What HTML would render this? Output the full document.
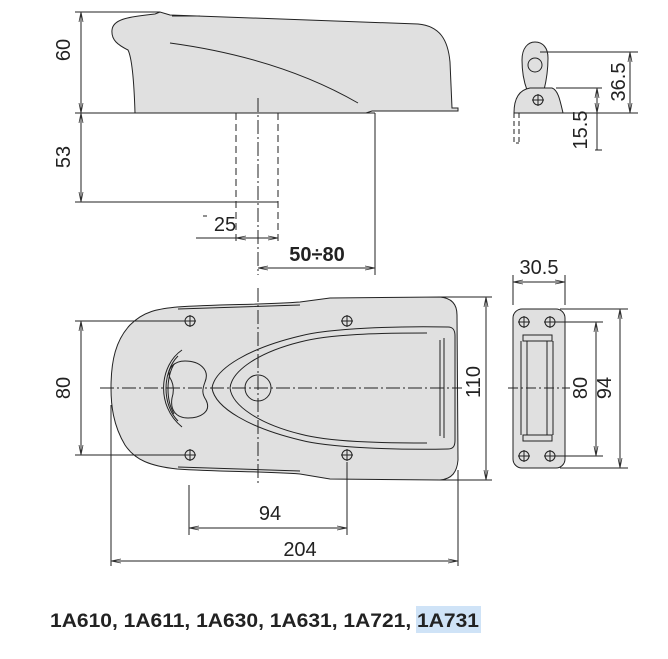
<!DOCTYPE html>
<html><head><style>
html,body{margin:0;padding:0;background:#fff;width:668px;height:659px;overflow:hidden}
svg{display:block}
text{font-family:"Liberation Sans",Arial,sans-serif;fill:#222}
</style></head><body>
<svg width="668" height="659" viewBox="0 0 668 659" xmlns="http://www.w3.org/2000/svg">
<defs>
<marker id="a" markerWidth="10" markerHeight="6" refX="10" refY="3" orient="auto-start-reverse" markerUnits="userSpaceOnUse"><path d="M0,1 L10,3 L0,5" fill="none" stroke="#333" stroke-width="0.8"/></marker>
</defs>
<g stroke="#222" stroke-width="1" fill="none">
<!-- TOP VIEW -->
<path d="M135,113 C134,80 132,58 128,50 C118,45 111,40 112,30 C113,20 125,17 155,14 L160,12 L170,15 L418,24 C440,26 448,40 450,62 L452,108 L458,108 L458,111 L372,111 L366,113 Z" fill="#e0e0e0"/>
<path d="M170,43 Q280,58 358,103"/>
<path d="M172,16 L200,16"/>
<line x1="75" y1="12" x2="160" y2="12"/>
<line x1="75" y1="113" x2="375" y2="113"/>
<line x1="75" y1="202" x2="278" y2="202"/>
<line x1="81" y1="12" x2="81" y2="113" marker-start="url(#a)" marker-end="url(#a)"/>
<line x1="81" y1="113" x2="81" y2="202" marker-start="url(#a)" marker-end="url(#a)"/>
<line x1="258" y1="98" x2="258" y2="275" stroke-dasharray="14,3,2,3"/>
<line x1="236" y1="113" x2="236" y2="245" stroke-dasharray="7,4"/>
<line x1="278" y1="113" x2="278" y2="245" stroke-dasharray="7,4"/>
<line x1="196" y1="238" x2="278" y2="238"/>
<line x1="236" y1="238" x2="258" y2="238" marker-start="url(#a)"/>
<line x1="258" y1="238" x2="278" y2="238" marker-end="url(#a)"/>
<line x1="203" y1="216" x2="207" y2="216"/>
<line x1="375" y1="113" x2="375" y2="275"/>
<line x1="258" y1="268" x2="375" y2="268" marker-start="url(#a)" marker-end="url(#a)"/>
<!-- BOTTOM VIEW -->
<path d="M177,307 C220,304 260,305 300,302 L330,298 L440,297 C452,298 457,305 457,315 L458,460 C457,472 452,479 440,480 L330,479 L300,474 C260,471 220,472 177,469 C150,466 135,460 125,445 C113,425 111,405 111,388 C111,360 116,340 130,325 C145,310 160,309 177,307 Z" fill="#e0e0e0"/>
<path d="M178,309 L300,305 M178,467 L300,471"/>
<path d="M448,327 C400,326 330,328 300,336 C250,348 215,368 212,388 C215,408 250,428 300,440 C330,448 400,450 448,449 C454,449 455,445 455,440 L455,336 C455,330 453,327 448,327 Z"/>
<path d="M427,333 C380,333 330,334 300,342 C260,352 232,370 230,388 C232,406 260,424 300,434 C330,442 380,443 427,443"/>
<path d="M440,340 L440,436 M444,338 L444,438"/>
<circle cx="258" cy="388" r="13"/>
<path d="M185,361 C200,361 210,370 205,382 C202,390 202,394 206,400 C212,412 200,418 188,418 C176,418 170,410 172,398 C174,392 174,384 170,378 C166,368 175,361 185,361 Z"/>
<path d="M182,350 C160,365 155,405 182,427 M178,356 C162,372 162,405 178,421 M174,364 C166,378 166,400 174,414"/>
<line x1="100" y1="388" x2="462" y2="388" stroke-dasharray="14,3,2,3"/>
<line x1="258" y1="288" x2="258" y2="485" stroke-dasharray="14,3,2,3"/>
<g id="h"><circle cx="190" cy="321" r="5"/><path d="M184,321 H196 M190,315 V327"/></g>
<use href="#h" x="157" y="0"/><use href="#h" x="0" y="134"/><use href="#h" x="157" y="134"/>
<line x1="75" y1="321" x2="186" y2="321"/>
<line x1="75" y1="455" x2="186" y2="455"/>
<line x1="81" y1="321" x2="81" y2="455" marker-start="url(#a)" marker-end="url(#a)"/>
<line x1="440" y1="297" x2="492" y2="297"/>
<line x1="440" y1="480" x2="492" y2="480"/>
<line x1="486" y1="297" x2="486" y2="480" marker-start="url(#a)" marker-end="url(#a)"/>
<line x1="189" y1="485" x2="189" y2="535"/>
<line x1="347" y1="462" x2="347" y2="535"/>
<line x1="189" y1="528" x2="347" y2="528" marker-start="url(#a)" marker-end="url(#a)"/>
<line x1="111" y1="405" x2="111" y2="566"/>
<line x1="458" y1="470" x2="458" y2="566"/>
<line x1="111" y1="561" x2="458" y2="561" marker-start="url(#a)" marker-end="url(#a)"/>
<!-- RIGHT TOP -->
<path d="M527,90 C524,82 522,72 522,60 C522,48 528,42 535,42 C543,42 548,48 548,58 C548,72 546,82 544,90 Z" fill="#e0e0e0"/>
<circle cx="535" cy="65" r="7"/>
<path d="M514,113 C514,100 518,90 530,88 L552,88 C558,90 560,100 563,113 Z" fill="#e0e0e0"/>
<circle cx="538" cy="100" r="5"/><path d="M532,100 H544 M538,94 V106"/>
<path d="M514,113 V143 H519 M519,113 V143" stroke-dasharray="5,3"/>
<line x1="540" y1="52" x2="638" y2="52"/>
<line x1="556" y1="88" x2="602" y2="88"/>
<line x1="555" y1="113" x2="638" y2="113"/>
<line x1="595" y1="150" x2="602" y2="150"/>
<line x1="630" y1="52" x2="630" y2="113" marker-start="url(#a)" marker-end="url(#a)"/>
<line x1="597" y1="88" x2="597" y2="113" marker-start="url(#a)" marker-end="url(#a)"/>
<line x1="597" y1="113" x2="597" y2="150"/>
<!-- RIGHT BOTTOM -->
<rect x="513" y="309" width="52" height="159" rx="9" fill="#e0e0e0"/>
<use href="#h" x="334" y="1"/><use href="#h" x="360" y="1"/>
<use href="#h" x="334" y="135"/><use href="#h" x="360" y="135"/>
<rect x="523" y="335" width="29" height="6"/>
<rect x="523" y="435" width="29" height="6"/>
<path d="M521,341 V435 M527,341 V435 M547,341 V435 M553,341 V435"/>
<line x1="508" y1="388" x2="570" y2="388" stroke-dasharray="10,3,2,3"/>
<line x1="513" y1="275" x2="513" y2="305"/>
<line x1="565" y1="275" x2="565" y2="305"/>
<line x1="513" y1="282" x2="565" y2="282" marker-start="url(#a)" marker-end="url(#a)"/>
<line x1="555" y1="322" x2="603" y2="322"/>
<line x1="555" y1="456" x2="603" y2="456"/>
<line x1="596" y1="322" x2="596" y2="456" marker-start="url(#a)" marker-end="url(#a)"/>
<line x1="560" y1="309" x2="628" y2="309"/>
<line x1="560" y1="468" x2="628" y2="468"/>
<line x1="620" y1="309" x2="620" y2="468" marker-start="url(#a)" marker-end="url(#a)"/>
</g>
<g font-size="20">
<text transform="translate(70,50) rotate(-90)" text-anchor="middle">60</text>
<text transform="translate(70,157) rotate(-90)" text-anchor="middle">53</text>
<text x="225" y="231" text-anchor="middle">25</text>
<text x="317" y="261" text-anchor="middle" font-weight="bold">50÷80</text>
<text transform="translate(70,388) rotate(-90)" text-anchor="middle">80</text>
<text transform="translate(480,382) rotate(-90)" text-anchor="middle">110</text>
<text x="270" y="520" text-anchor="middle">94</text>
<text x="300" y="556" text-anchor="middle">204</text>
<text transform="translate(625,82) rotate(-90)" text-anchor="middle">36.5</text>
<text transform="translate(587,130) rotate(-90)" text-anchor="middle">15.5</text>
<text x="539" y="274" text-anchor="middle">30.5</text>
<text transform="translate(587,388) rotate(-90)" text-anchor="middle">80</text>
<text transform="translate(611,388) rotate(-90)" text-anchor="middle">94</text>
</g>
<rect x="416" y="606" width="65" height="27" fill="#cfe3f7"/>
<text x="50" y="627" font-size="19" font-weight="bold" textLength="429" lengthAdjust="spacingAndGlyphs">1A610, 1A611, 1A630, 1A631, 1A721, 1A731</text>
</svg>
</body></html>
